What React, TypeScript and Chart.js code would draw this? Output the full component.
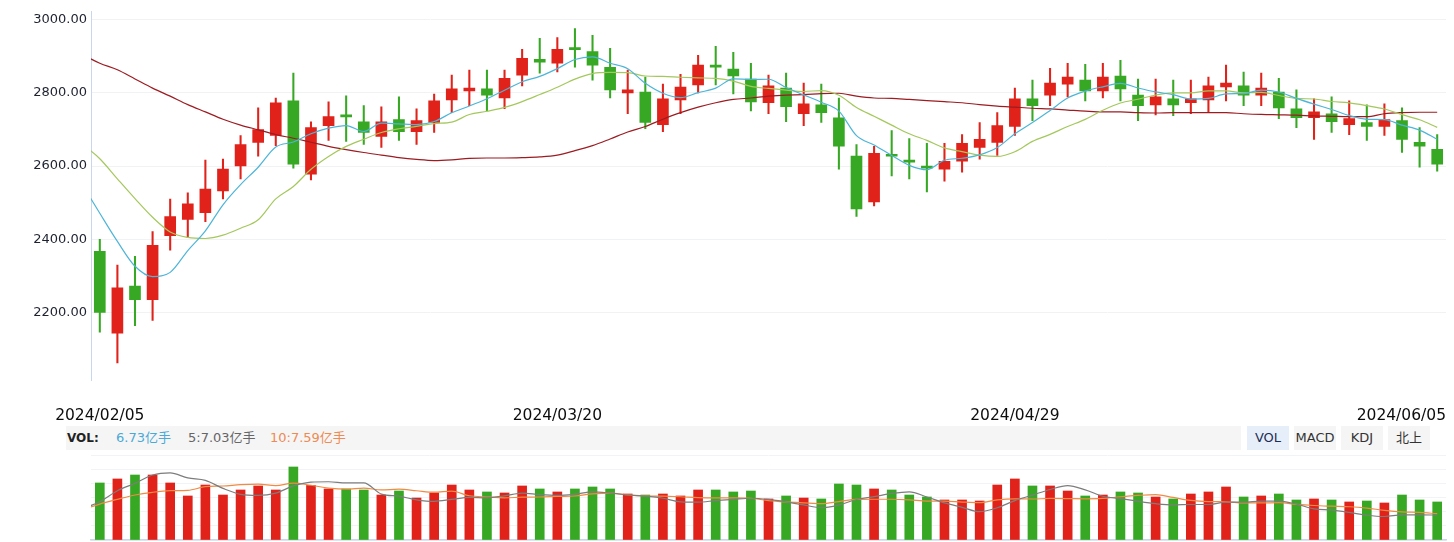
import React, { useEffect, useRef } from "react";
import { Chart, registerables } from "chart.js";

Chart.register(...registerables);

// ---------- data ----------
const dates = [
  "2024/02/05","2024/02/06","2024/02/07","2024/02/08","2024/02/19","2024/02/20","2024/02/21","2024/02/22","2024/02/23","2024/02/26","2024/02/27","2024/02/28","2024/02/29",
  "2024/03/01","2024/03/04","2024/03/05","2024/03/06","2024/03/07","2024/03/08","2024/03/11","2024/03/12","2024/03/13","2024/03/14","2024/03/15","2024/03/18","2024/03/19","2024/03/20","2024/03/21","2024/03/22","2024/03/25","2024/03/26","2024/03/27","2024/03/28","2024/03/29",
  "2024/04/01","2024/04/02","2024/04/03","2024/04/08","2024/04/09","2024/04/10","2024/04/11","2024/04/12","2024/04/15","2024/04/16","2024/04/17","2024/04/18","2024/04/19","2024/04/22","2024/04/23","2024/04/24","2024/04/25","2024/04/26","2024/04/29","2024/04/30",
  "2024/05/06","2024/05/07","2024/05/08","2024/05/09","2024/05/10","2024/05/13","2024/05/14","2024/05/15","2024/05/16","2024/05/17","2024/05/20","2024/05/21","2024/05/22","2024/05/23","2024/05/24","2024/05/27","2024/05/28","2024/05/29","2024/05/30","2024/05/31",
  "2024/06/03","2024/06/04","2024/06/05",
];

const opens = [
  2367, 2143, 2272, 2235, 2410, 2454, 2472.5, 2532, 2600.5, 2664.6,
  2684, 2778, 2578, 2710.6, 2740, 2721, 2681, 2727, 2694, 2719,
  2781, 2805, 2811, 2786, 2848.5, 2892, 2881, 2924, 2913, 2870,
  2800, 2802.5, 2713, 2781, 2821.5, 2876, 2865, 2838, 2773, 2813,
  2743, 2767, 2732, 2627, 2502, 2632, 2616, 2600, 2591.5, 2613,
  2651, 2664.6, 2708, 2783.6, 2794, 2824, 2835, 2805, 2846, 2794,
  2767, 2783.6, 2773, 2781, 2816, 2819, 2794, 2802.5, 2756.5, 2732,
  2743, 2713, 2719, 2708, 2724, 2664.6, 2645.6,
];
const highs = [
  2399.5, 2329, 2353.5, 2421, 2510, 2527, 2616, 2619, 2683.5, 2759,
  2786, 2854, 2721, 2775.5, 2792, 2765, 2762, 2789, 2756.5, 2797,
  2848.5, 2862, 2862, 2862, 2919, 2949, 2951, 2976, 2957, 2922,
  2862, 2843, 2824, 2851, 2902.6, 2927, 2911, 2881, 2848.5, 2854,
  2827, 2824, 2786, 2659, 2654, 2697, 2675, 2662, 2662, 2686,
  2719, 2746, 2813, 2835, 2867, 2881, 2878, 2881, 2889, 2838,
  2838, 2835, 2835, 2843, 2876, 2857, 2854, 2840, 2808, 2783.6,
  2789, 2778, 2767, 2770, 2759, 2705, 2686,
];
const lows = [
  2146, 2062, 2164, 2178, 2370, 2405, 2448, 2510, 2564.5, 2627,
  2656, 2594, 2562, 2670, 2667, 2659, 2651, 2670, 2659, 2692,
  2746, 2765, 2751, 2756.5, 2819, 2854, 2857, 2870, 2835, 2786,
  2743, 2702, 2694, 2743, 2800, 2821.5, 2797, 2751, 2743, 2721,
  2710.6, 2719, 2591.5, 2462, 2491, 2573, 2564.5, 2529, 2559, 2583,
  2619, 2629, 2683.5, 2724, 2765, 2789, 2778, 2786, 2778, 2724,
  2740, 2737.6, 2743, 2746, 2778, 2765, 2765, 2729.5, 2705, 2672.7,
  2692, 2686, 2670, 2683.5, 2637.5, 2597, 2586,
];
const closes = [
  2200, 2267, 2235, 2383, 2462, 2497, 2537, 2591.5, 2659, 2699.7,
  2773, 2605, 2705, 2735, 2734.5, 2692, 2721, 2694, 2724, 2778,
  2811, 2813, 2794, 2840, 2894.5, 2884, 2919, 2918, 2876, 2808,
  2808, 2719, 2783.6, 2816, 2876, 2870, 2846, 2775.5, 2819, 2762,
  2770, 2746, 2654, 2483, 2635, 2627, 2610.5, 2594, 2613, 2662,
  2673, 2710.6, 2783.6, 2765, 2827, 2843, 2805, 2843, 2811, 2765,
  2789, 2767, 2783.6, 2819, 2827, 2794, 2813, 2759, 2732, 2748.4,
  2721, 2729.5, 2708, 2727, 2673, 2654, 2605,
];

// moving-average lines: first value belongs to the trading day just before the first visible one
const maStartIndex = -1;
const priceMa5 = [
  2550, 2471, 2394, 2326, 2298, 2309.4, 2368.8, 2422.8, 2494.1, 2549.3, 2596.8,
  2652, 2665.6, 2688.3, 2703.5, 2710.5, 2694.3, 2717.5, 2715.3, 2713.1, 2721.7,
  2745.6, 2764, 2784, 2807.2, 2830.5, 2845.1, 2866.3, 2891.1, 2898.3, 2881,
  2866, 2826, 2798.9, 2786.9, 2800.5, 2812.9, 2838.3, 2836.7, 2837.3, 2814.5,
  2794.5, 2774.5, 2750.2, 2683, 2657.6, 2629, 2601.9, 2589.9, 2615.9, 2621.3,
  2630.5, 2650.5, 2688.4, 2718.8, 2751.8, 2785.8, 2804.7, 2816.6, 2825.8, 2813.4,
  2802.6, 2795, 2783.1, 2784.7, 2797.1, 2798.1, 2807.3, 2802.4, 2785, 2769.3,
  2754.7, 2738, 2727.8, 2726.8, 2711.7, 2698.3, 2673.4,
];
const priceMa10 = [
  2660, 2620, 2565, 2511, 2460, 2420, 2405, 2402, 2411, 2430, 2453.1,
  2510.4, 2544.2, 2591.2, 2626.4, 2653.7, 2673.2, 2691.6, 2701.9, 2708.4, 2716.2,
  2720, 2740.8, 2749.7, 2760.2, 2776.2, 2795.4, 2815.2, 2837.6, 2852.8, 2855.8,
  2855.5, 2846.1, 2845.1, 2842.7, 2840.9, 2839.5, 2832.2, 2817.8, 2812.1, 2807.5,
  2803.7, 2806.4, 2793.5, 2760.2, 2736.1, 2711.8, 2688.2, 2670.1, 2649.5, 2639.5,
  2629.8, 2626.2, 2639.2, 2667.4, 2686.6, 2708.2, 2727.6, 2752.5, 2772.3, 2782.6,
  2794.2, 2799.9, 2799.9, 2805.3, 2805.3, 2800.4, 2801.2, 2792.8, 2784.9, 2783.2,
  2776.4, 2772.7, 2765.1, 2755.9, 2740.5, 2726.5, 2705.7,
];
const priceMa60 = [
  2905, 2881, 2863, 2838, 2813, 2791, 2768, 2748, 2728, 2712, 2699,
  2686, 2676, 2665, 2654, 2645, 2637, 2630, 2623, 2618, 2615,
  2617, 2621, 2622, 2622, 2623, 2625, 2630, 2642, 2656, 2674,
  2693, 2708, 2728, 2746, 2761, 2773, 2782, 2786, 2791, 2794,
  2795, 2798, 2799, 2791, 2786, 2785, 2782, 2779, 2776, 2773,
  2768, 2764, 2761, 2758, 2756, 2753, 2750, 2748, 2748, 2746,
  2745, 2746, 2746, 2746, 2746, 2743, 2741, 2740, 2739, 2737,
  2736, 2735, 2735, 2743, 2746, 2747, 2747,
];

// volume in 亿手
const volumes = [
  10.09, 10.8, 11.5, 11.5, 10.09, 7.79, 9.73, 7.96, 8.85, 9.56,
  8.85, 12.92, 9.65, 9.03, 9.03, 8.85, 7.96, 8.67, 7.43, 8.32,
  9.73, 8.85, 8.5, 8.32, 9.56, 9.03, 8.5, 9.03, 9.38, 9.03,
  8.14, 7.96, 8.14, 7.79, 8.85, 8.85, 8.5, 8.67, 7.26, 7.79,
  7.43, 7.26, 9.91, 9.73, 9.03, 8.85, 7.96, 7.61, 7.08, 7.08,
  6.9, 9.73, 10.8, 9.56, 9.56, 8.67, 7.79, 7.96, 8.5, 8.32,
  7.61, 7.26, 8.14, 8.5, 9.38, 7.61, 7.79, 8.14, 7.08, 7.26,
  7.08, 6.73, 6.9, 6.55, 7.96, 7.08, 6.73,
];
const volMa5 = [
  7.58, 8.22, 9.2, 9.86, 10.6, 10.8, 10.34, 10.12, 9.41, 8.88, 8.78,
  8.99, 9.63, 9.97, 10.0, 9.9, 9.9, 8.9, 8.71, 8.39, 8.25,
  8.42, 8.6, 8.57, 8.74, 8.99, 8.85, 8.78, 8.89, 9.1, 8.99,
  8.82, 8.71, 8.53, 8.21, 8.18, 8.32, 8.43, 8.53, 8.43, 8.21,
  7.93, 7.68, 7.93, 8.42, 8.67, 8.96, 9.1, 8.64, 8.11, 7.72,
  7.33, 7.68, 8.32, 8.81, 9.31, 9.66, 9.28, 8.71, 8.5, 8.25,
  8.04, 7.93, 7.97, 7.97, 8.18, 8.18, 8.28, 8.28, 8.0, 7.58,
  7.47, 7.26, 7.01, 6.9, 7.04, 7.04, 7.03,
];
const volMa10 = [
  7.49, 8.01, 8.43, 8.82, 9.06, 9.2, 9.23, 9.56, 9.62, 9.74, 9.79,
  9.66, 9.88, 9.69, 9.44, 9.34, 9.44, 9.27, 9.34, 9.2, 9.07,
  9.16, 8.75, 8.64, 8.57, 8.62, 8.64, 8.69, 8.73, 8.92, 8.99,
  8.83, 8.75, 8.71, 8.66, 8.59, 8.57, 8.57, 8.53, 8.32, 8.2,
  8.12, 8.05, 8.23, 8.43, 8.44, 8.44, 8.39, 8.28, 8.27, 8.19,
  8.14, 8.39, 8.48, 8.46, 8.51, 8.5, 8.48, 8.51, 8.66, 8.78,
  8.85, 8.6, 8.34, 8.23, 8.21, 8.11, 8.11, 8.13, 7.98, 7.88,
  7.82, 7.77, 7.65, 7.45, 7.31, 7.26, 7.15,
];

const priceTicks = [2200, 2400, 2600, 2800, 3000];
const dateTickIndices = [0, 26, 52, 76];
const volLegendLabels = ["6.73亿手", "5:7.03亿手", "10:7.59亿手"];
const indicatorTabs = ["VOL", "MACD", "KDJ", "北上"];

// ---------- styles ----------
const UP = "#e0221a";
const DOWN = "#37a823";
const AXIS_BLUE = "#c9d7ec";
const FONT = '"DejaVu Sans", "Noto Sans CJK SC", sans-serif';

const toPoints = (arr: number[]) => arr.map((v, i) => ({ x: i + maStartIndex, y: v }));

const dateLabelPlugin = {
  id: "dateLabels",
  afterDraw(chart: any) {
    const { ctx, chartArea, scales } = chart;
    const xs = scales.x;
    ctx.save();
    ctx.font = `15.5px ${FONT}`;
    ctx.fillStyle = "#0d0d0d";
    ctx.textBaseline = "alphabetic";
    ctx.textAlign = "left";
    dateTickIndices.forEach((i) => {
      const label = dates[i];
      const w = ctx.measureText(label).width;
      let left = xs.getPixelForValue(i) - w / 2;
      left = Math.min(left, chartArea.right - w);
      left = Math.max(left, 0);
      ctx.fillText(label, left, 420);
    });
    ctx.restore();
  },
};

export default function App() {
  const priceRef = useRef<HTMLCanvasElement | null>(null);
  const volRef = useRef<HTMLCanvasElement | null>(null);

  useEffect(() => {
    const colors = closes.map((c, i) => (c >= opens[i] ? UP : DOWN));
    const lineBase = {
      type: "line" as const,
      pointRadius: 0,
      borderWidth: 1.2,
      cubicInterpolationMode: "monotone" as const,
      fill: false,
    };

    const priceChart = new Chart(priceRef.current!, {
      type: "bar",
      data: {
        datasets: [
          { ...lineBase, data: toPoints(priceMa5), borderColor: "#4db5d8" } as any,
          { ...lineBase, data: toPoints(priceMa10), borderColor: "#a4c85c" } as any,
          { ...lineBase, data: toPoints(priceMa60), borderColor: "#9c1c22" } as any,
          {
            type: "bar",
            data: dates.map((_, i) => ({ x: i, y: [opens[i], closes[i]] })),
            backgroundColor: colors,
            barThickness: 11,
            grouped: false,
            borderWidth: 0,
          } as any,
          {
            type: "bar",
            data: dates.map((_, i) => ({ x: i, y: [lows[i], highs[i]] })),
            backgroundColor: colors,
            barThickness: 1.4,
            grouped: false,
            borderWidth: 0,
          } as any,
        ],
      },
      options: {
        animation: false,
        responsive: false,
        maintainAspectRatio: false,
        events: [],
        layout: { padding: { left: 0, right: 8, top: 8, bottom: 45 } },
        plugins: { legend: { display: false }, tooltip: { enabled: false } },
        scales: {
          x: { type: "linear", min: -0.5, max: 76.5, offset: false, display: false },
          y: {
            type: "linear",
            min: 2015.2,
            max: 3021.6,
            afterFit: (s: any) => {
              s.width = 91;
            },
            afterBuildTicks: (s: any) => {
              s.ticks = priceTicks.map((v) => ({ value: v }));
            },
            grid: { color: "#f1f2f4", drawTicks: false, lineWidth: 1 },
            border: { color: AXIS_BLUE, width: 1 },
            ticks: {
              padding: 4,
              color: "#1e2230",
              font: { family: FONT, size: 13 },
              callback: (v: any) => Number(v).toFixed(2),
            },
          },
        },
      } as any,
      plugins: [dateLabelPlugin],
    });

    const volChart = new Chart(volRef.current!, {
      type: "bar",
      data: {
        datasets: [
          { ...lineBase, yAxisID: "y2", data: toPoints(volMa5), borderColor: "#7d7d7d" } as any,
          { ...lineBase, yAxisID: "y2", data: toPoints(volMa10), borderColor: "#f08a44" } as any,
          {
            type: "bar",
            yAxisID: "y",
            data: volumes.map((v, i) => ({ x: i, y: v })),
            backgroundColor: colors,
            barThickness: 9,
            grouped: false,
            borderWidth: 0,
          } as any,
        ],
      },
      options: {
        animation: false,
        responsive: false,
        maintainAspectRatio: false,
        events: [],
        layout: { padding: { left: 91, right: 8, top: 5, bottom: 2 } },
        plugins: { legend: { display: false }, tooltip: { enabled: false } },
        scales: {
          x: {
            type: "linear",
            min: -0.5,
            max: 76.5,
            offset: false,
            grid: { display: false, drawTicks: false },
            ticks: { display: false },
            border: { display: true, color: AXIS_BLUE, width: 1.5 },
            afterFit: (s: any) => {
              s.height = 0;
            },
          },
          y: {
            type: "linear",
            min: 0,
            max: 15.04,
            afterFit: (s: any) => {
              s.width = 0;
            },
            afterBuildTicks: (s: any) => {
              s.ticks = [0, 1, 2, 3, 4, 5, 6].map((k) => ({ value: (15.04 * k) / 6 }));
            },
            grid: { color: "#f2f3f6", drawTicks: false },
            border: { display: false },
            ticks: { display: false },
          },
          y2: { type: "linear", display: false, min: 4.8, max: 12.39 },
        },
      } as any,
    });

    return () => {
      priceChart.destroy();
      volChart.destroy();
    };
  }, []);

  const legendColors = ["#4aa9d6", "#666666", "#ee8a52"];
  const legendLefts = [116, 188, 270];
  const tabLefts = [1247, 1294, 1341, 1388];
  const tabWidths = [42, 42, 42, 42];

  return (
    <div
      style={{
        position: "absolute",
        left: 0,
        top: 0,
        width: 1454,
        height: 542,
        background: "#fff",
        overflow: "hidden",
        fontFamily: FONT,
      }}
    >
      <canvas
        ref={priceRef}
        width={1454}
        height={425}
        style={{ position: "absolute", left: 0, top: 0, width: 1454, height: 425 }}
      />
      <div
        style={{
          position: "absolute",
          left: 66,
          top: 426,
          width: 1175,
          height: 24,
          background: "#f5f5f5",
        }}
      />
      <div
        style={{
          position: "absolute",
          left: 67,
          top: 426,
          height: 24,
          lineHeight: "24px",
          fontSize: 12,
          fontWeight: 700,
          color: "#222",
        }}
      >
        VOL:
      </div>
      {volLegendLabels.map((t, i) => (
        <div
          key={t}
          style={{
            position: "absolute",
            left: legendLefts[i],
            top: 426,
            height: 24,
            lineHeight: "24px",
            fontSize: 13,
            color: legendColors[i],
            whiteSpace: "nowrap",
          }}
        >
          {t}
        </div>
      ))}
      {indicatorTabs.map((t, i) => (
        <div
          key={t}
          style={{
            position: "absolute",
            left: tabLefts[i],
            top: 426,
            width: tabWidths[i],
            height: 24,
            lineHeight: "24px",
            textAlign: "center",
            fontSize: 13,
            color: i === 0 ? "#1d2f55" : "#333",
            background: i === 0 ? "#e6eef9" : "#f5f5f5",
            whiteSpace: "nowrap",
          }}
        >
          {t}
        </div>
      ))}
      <canvas
        ref={volRef}
        width={1454}
        height={92}
        style={{ position: "absolute", left: 0, top: 450, width: 1454, height: 92 }}
      />
    </div>
  );
}
